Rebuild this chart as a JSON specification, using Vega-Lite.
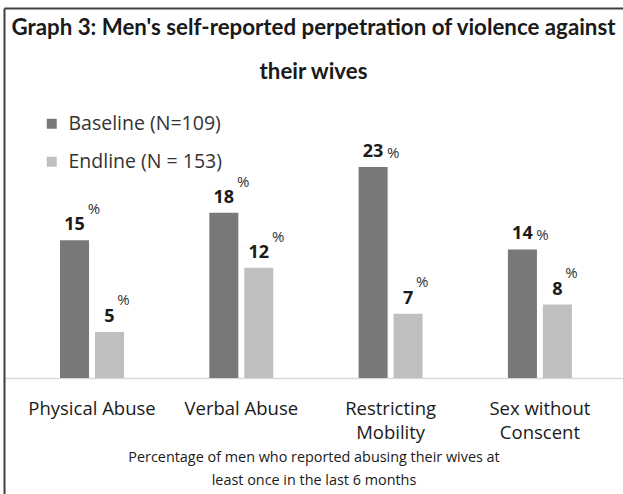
{
  "$schema": "https://vega.github.io/schema/vega-lite/v6.json",
  "width": 619,
  "height": 486,
  "autosize": {"type": "none"},
  "padding": {"left": 4, "top": 8, "right": 0, "bottom": 0},
  "background": "white",
  "config": {"view": {"stroke": null}, "font": "Open Sans"},
  "title": {
    "text": ["Graph 3: Men's self-reported perpetration of violence against", "their wives"],
    "font": "Lato",
    "fontSize": 22.3,
    "fontWeight": "bold",
    "color": "#1a1a1a",
    "anchor": "middle",
    "frame": "group",
    "baseline": "top",
    "offset": -75,
    "lineHeight": 44
  },
  "data": {
    "values": [
      {"category": "Physical Abuse", "group": "Baseline", "value": 15},
      {"category": "Physical Abuse", "group": "Endline", "value": 5},
      {"category": "Verbal Abuse", "group": "Baseline", "value": 18},
      {"category": "Verbal Abuse", "group": "Endline", "value": 12},
      {"category": "Restricting Mobility", "group": "Baseline", "value": 23},
      {"category": "Restricting Mobility", "group": "Endline", "value": 7},
      {"category": "Sex without Conscent", "group": "Baseline", "value": 14},
      {"category": "Sex without Conscent", "group": "Endline", "value": 8}
    ]
  },
  "resolve": {"axis": {"x": "independent"}},
  "layer": [
    {
      "mark": {"type": "bar"},
      "encoding": {
        "x": {
          "field": "category",
          "type": "nominal",
          "sort": ["Physical Abuse", "Verbal Abuse", "Restricting Mobility", "Sex without Conscent"],
          "scale": {"paddingInner": 0.5713, "paddingOuter": 0.3587, "align": 0.523},
          "axis": {
            "orient": "bottom",
            "offset": -116,
            "domainColor": "#d9d9d9",
            "domainWidth": 1.5,
            "ticks": false,
            "labelAngle": 0,
            "labelFont": "Open Sans",
            "labelFontSize": 18.5,
            "labelColor": "#1a1a1a",
            "labelPadding": 21,
            "labelLineHeight": 24,
            "labelExpr": "datum.label == 'Restricting Mobility' ? ['Restricting', 'Mobility'] : datum.label == 'Sex without Conscent' ? ['Sex without', 'Conscent'] : datum.label",
            "title": ["Percentage of men who reported abusing their wives at", "least once in the last 6 months"],
            "titleFont": "Open Sans",
            "titleFontSize": 14.4,
            "titleFontWeight": "normal",
            "titleColor": "#1a1a1a",
            "titlePadding": 9,
            "titleLineHeight": 23
          }
        },
        "xOffset": {
          "field": "group",
          "type": "nominal",
          "sort": ["Baseline", "Endline"],
          "scale": {"paddingInner": 0.17, "paddingOuter": 0}
        },
        "y": {
          "field": "value",
          "type": "quantitative",
          "scale": {"domain": [-12.64, 40.31], "nice": false, "zero": false},
          "axis": {
            "orient": "left",
            "domainColor": "#404040",
            "domainWidth": 2,
            "labels": false,
            "ticks": false,
            "grid": false,
            "title": null
          }
        },
        "y2": {"datum": 0},
        "color": {
          "field": "group",
          "type": "nominal",
          "scale": {"domain": ["Baseline", "Endline"], "range": ["#787878", "#bfbfbf"]},
          "legend": {
            "orient": "none",
            "legendX": 38,
            "legendY": 106,
            "title": null,
            "symbolType": "square",
            "symbolSize": 100,
            "symbolStrokeWidth": 0,
            "labelFont": "Open Sans",
            "labelFontSize": 19.5,
            "labelColor": "#333333",
            "labelOffset": 7,
            "rowPadding": 17,
            "padding": 0,
            "labelExpr": "datum.label == 'Baseline' ? 'Baseline (N=109)' : 'Endline (N = 153)'"
          }
        }
      }
    },
    {
      "mark": {"type": "text", "font": "Open Sans", "fontWeight": "bold", "fontSize": 18, "color": "#1a1a1a", "baseline": "middle", "dy": -15},
      "encoding": {
        "x": {
          "field": "category",
          "type": "nominal",
          "sort": ["Physical Abuse", "Verbal Abuse", "Restricting Mobility", "Sex without Conscent"],
          "axis": {
            "orient": "top",
            "domainColor": "#404040",
            "domainWidth": 2,
            "labels": false,
            "ticks": false,
            "title": null
          }
        },
        "xOffset": {"field": "group", "type": "nominal", "sort": ["Baseline", "Endline"]},
        "y": {"field": "value", "type": "quantitative"},
        "text": {"field": "value", "type": "quantitative"}
      }
    },
    {
      "transform": [{"filter": "datum.value >= 10 && !(datum.group == 'Baseline' && (datum.category == 'Restricting Mobility' || datum.category == 'Sex without Conscent'))"}],
      "mark": {"type": "text", "font": "Open Sans", "fontSize": 15, "color": "#333333", "baseline": "middle", "dx": 19.5, "dy": -31},
      "encoding": {
        "x": {"field": "category", "type": "nominal", "sort": ["Physical Abuse", "Verbal Abuse", "Restricting Mobility", "Sex without Conscent"], "axis": null},
        "xOffset": {"field": "group", "type": "nominal", "sort": ["Baseline", "Endline"]},
        "y": {"field": "value", "type": "quantitative"},
        "text": {"value": "%"}
      }
    },
    {
      "transform": [{"filter": "datum.value < 10"}],
      "mark": {"type": "text", "font": "Open Sans", "fontSize": 15, "color": "#333333", "baseline": "middle", "dx": 14, "dy": -32},
      "encoding": {
        "x": {"field": "category", "type": "nominal", "sort": ["Physical Abuse", "Verbal Abuse", "Restricting Mobility", "Sex without Conscent"], "axis": null},
        "xOffset": {"field": "group", "type": "nominal", "sort": ["Baseline", "Endline"]},
        "y": {"field": "value", "type": "quantitative"},
        "text": {"value": "%"}
      }
    },
    {
      "transform": [{"filter": "datum.group == 'Baseline' && (datum.category == 'Restricting Mobility' || datum.category == 'Sex without Conscent')"}],
      "mark": {"type": "text", "font": "Open Sans", "fontSize": 15, "color": "#333333", "baseline": "middle", "dx": 20, "dy": -14},
      "encoding": {
        "x": {"field": "category", "type": "nominal", "sort": ["Physical Abuse", "Verbal Abuse", "Restricting Mobility", "Sex without Conscent"], "axis": null},
        "xOffset": {"field": "group", "type": "nominal", "sort": ["Baseline", "Endline"]},
        "y": {"field": "value", "type": "quantitative"},
        "text": {"value": "%"}
      }
    }
  ]
}
